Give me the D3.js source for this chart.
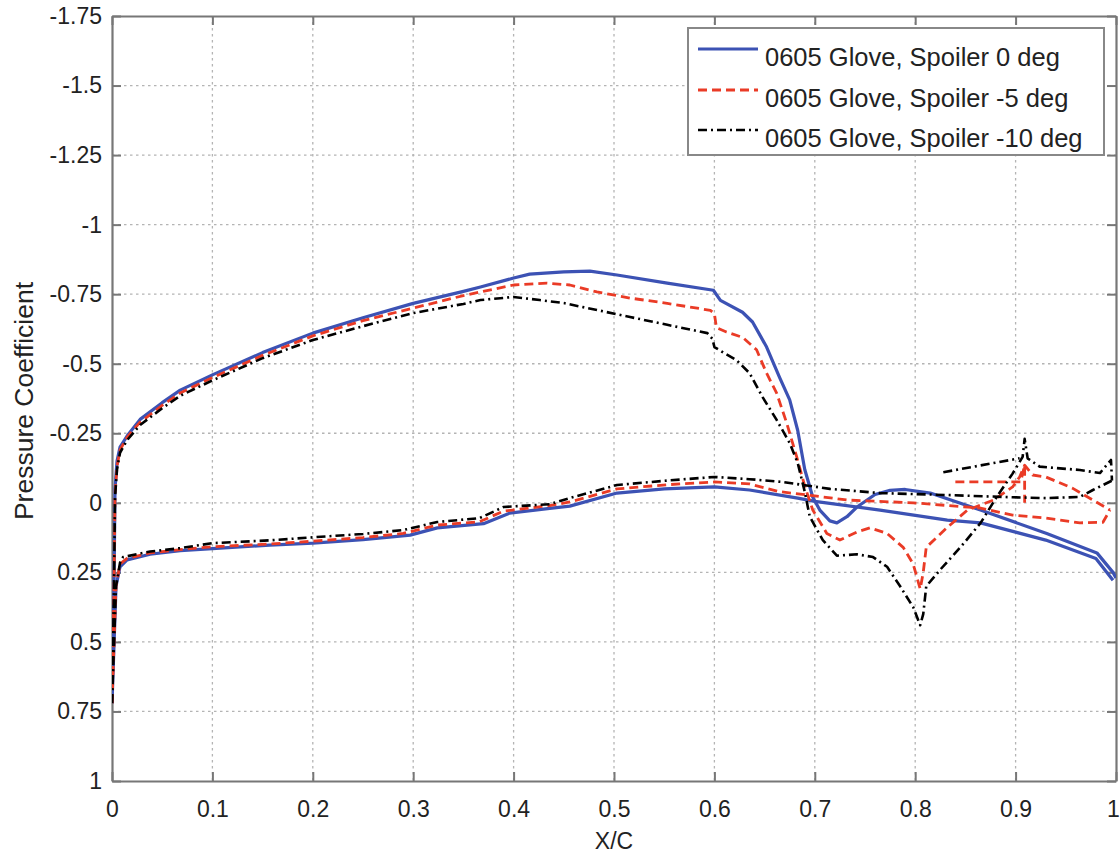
<!DOCTYPE html>
<html>
<head>
<meta charset="utf-8">
<script src="https://cdn.jsdelivr.net/npm/d3@7"></script>
<style>
  html, body { margin: 0; padding: 0; background: #fff; }
  svg { display: block; font-family: "Liberation Sans", Arial, sans-serif; }
</style>
</head>
<body>
<svg id="chart" width="1120" height="856"></svg>
<script>
// ---------------- DATA ----------------
const xTicks = [0, 0.1, 0.2, 0.3, 0.4, 0.5, 0.6, 0.7, 0.8, 0.9, 1];
const xTickLabels = ["0", "0.1", "0.2", "0.3", "0.4", "0.5", "0.6", "0.7", "0.8", "0.9", "1"];
const yTicks = [-1.75, -1.5, -1.25, -1, -0.75, -0.5, -0.25, 0, 0.25, 0.5, 0.75, 1];
const yTickLabels = ["-1.75", "-1.5", "-1.25", "-1", "-0.75", "-0.5", "-0.25", "0", "0.25", "0.5", "0.75", "1"];
const seriesNames = ["0605 Glove, Spoiler 0 deg", "0605 Glove, Spoiler -5 deg", "0605 Glove, Spoiler -10 deg"];

// Spoiler 0 deg
const s0UpperX  = [0.0, 0.002, 0.003, 0.005, 0.008, 0.015, 0.028, 0.05, 0.068, 0.1, 0.15, 0.2, 0.25, 0.3, 0.35, 0.367, 0.4, 0.416, 0.45, 0.476, 0.503, 0.553, 0.599, 0.606, 0.628, 0.638, 0.652, 0.665, 0.675, 0.683, 0.69, 0.698, 0.705, 0.715, 0.722, 0.732, 0.742, 0.76, 0.775, 0.79, 0.815, 0.865, 0.931, 0.981, 0.997, 1.0];
const s0UpperCp = [0.72, 0.3, -0.05, -0.15, -0.2, -0.24, -0.3, -0.36, -0.405, -0.46, -0.54, -0.61, -0.665, -0.717, -0.76, -0.776, -0.808, -0.822, -0.83, -0.833, -0.819, -0.79, -0.764, -0.728, -0.685, -0.65, -0.56, -0.45, -0.37, -0.26, -0.12, -0.02, 0.026, 0.065, 0.072, 0.05, 0.015, -0.03, -0.045, -0.048, -0.035, 0.026, 0.11, 0.18, 0.25, 0.27];
const s0LowerX  = [0.0, 0.004, 0.008, 0.015, 0.038, 0.068, 0.1, 0.157, 0.2, 0.25, 0.297, 0.324, 0.37, 0.396, 0.436, 0.456, 0.503, 0.55, 0.6, 0.635, 0.683, 0.7, 0.765, 0.832, 0.865, 0.93, 0.98, 0.997];
const s0LowerCp = [0.72, 0.3, 0.23, 0.205, 0.185, 0.172, 0.165, 0.152, 0.145, 0.132, 0.116, 0.09, 0.075, 0.037, 0.02, 0.012, -0.035, -0.05, -0.057, -0.046, -0.017, -0.005, 0.026, 0.062, 0.072, 0.134, 0.2, 0.278];

// Spoiler -5 deg
const s5UpperX  = [0.0, 0.002, 0.003, 0.005, 0.008, 0.015, 0.028, 0.05, 0.068, 0.1, 0.15, 0.2, 0.25, 0.3, 0.35, 0.367, 0.4, 0.433, 0.456, 0.483, 0.516, 0.553, 0.596, 0.6, 0.602, 0.612, 0.628, 0.642, 0.652, 0.662, 0.672, 0.682, 0.69, 0.698, 0.712, 0.725, 0.742, 0.755, 0.772, 0.788, 0.798, 0.805, 0.808, 0.811, 0.832, 0.852, 0.878, 0.897, 0.904, 0.909, 0.917, 0.93, 0.957, 0.977, 0.994];
const s5UpperCp = [0.72, 0.3, -0.03, -0.13, -0.19, -0.235, -0.29, -0.35, -0.395, -0.45, -0.53, -0.6, -0.655, -0.7, -0.745, -0.758, -0.783, -0.79, -0.783, -0.758, -0.736, -0.717, -0.692, -0.68, -0.63, -0.614, -0.595, -0.55, -0.466, -0.394, -0.287, -0.165, -0.06, 0.026, 0.11, 0.134, 0.105, 0.09, 0.11, 0.16, 0.22, 0.31, 0.25, 0.16, 0.088, 0.026, -0.01, -0.057, -0.093, -0.135, -0.1, -0.093, -0.052, -0.01, 0.026];
const s5SpoilerX  = [0.84, 0.905, 0.909, 0.909];
const s5SpoilerCp = [-0.075, -0.075, -0.135, 0.0];
const s5LowerX  = [0.0, 0.004, 0.008, 0.015, 0.038, 0.068, 0.1, 0.157, 0.2, 0.25, 0.29, 0.324, 0.366, 0.39, 0.436, 0.456, 0.503, 0.553, 0.6, 0.635, 0.665, 0.7, 0.732, 0.798, 0.865, 0.897, 0.93, 0.964, 0.987, 0.994];
const s5LowerCp = [0.72, 0.3, 0.22, 0.2, 0.18, 0.168, 0.158, 0.148, 0.138, 0.125, 0.11, 0.08, 0.068, 0.03, 0.01, -0.003, -0.05, -0.065, -0.075, -0.068, -0.04, -0.025, -0.01, 0.0, 0.019, 0.044, 0.055, 0.072, 0.07, 0.026];

// Spoiler -10 deg
const s10UpperX  = [0.0, 0.002, 0.003, 0.005, 0.008, 0.015, 0.028, 0.05, 0.068, 0.1, 0.15, 0.2, 0.25, 0.3, 0.35, 0.367, 0.4, 0.426, 0.45, 0.483, 0.516, 0.553, 0.593, 0.598, 0.6, 0.609, 0.622, 0.635, 0.648, 0.662, 0.675, 0.683, 0.69, 0.695, 0.708, 0.722, 0.742, 0.758, 0.772, 0.785, 0.798, 0.805, 0.808, 0.811, 0.825, 0.845, 0.865, 0.881, 0.897, 0.907, 0.909, 0.912, 0.924, 0.964, 0.984, 0.995, 0.996];
const s10UpperCp = [0.72, 0.3, -0.02, -0.12, -0.18, -0.225, -0.28, -0.34, -0.385, -0.44, -0.52, -0.585, -0.635, -0.682, -0.715, -0.729, -0.74, -0.729, -0.718, -0.693, -0.668, -0.64, -0.61, -0.59, -0.56, -0.54, -0.513, -0.466, -0.38, -0.298, -0.215, -0.143, -0.04, 0.05, 0.134, 0.19, 0.185, 0.195, 0.23, 0.3, 0.375, 0.44, 0.4, 0.3, 0.24, 0.16, 0.073, -0.02, -0.105, -0.165, -0.23, -0.16, -0.13, -0.118, -0.107, -0.154, -0.08];
const s10SpoilerX  = [0.828, 0.904];
const s10SpoilerCp = [-0.11, -0.16];
const s10LowerX  = [0.0, 0.004, 0.008, 0.011, 0.038, 0.068, 0.1, 0.157, 0.2, 0.25, 0.29, 0.324, 0.366, 0.39, 0.436, 0.456, 0.503, 0.553, 0.6, 0.635, 0.668, 0.715, 0.765, 0.832, 0.897, 0.93, 0.964, 0.977, 0.996];
const s10LowerCp = [0.72, 0.3, 0.215, 0.195, 0.175, 0.163, 0.145, 0.135, 0.124, 0.112, 0.098, 0.069, 0.055, 0.015, 0.005, -0.017, -0.064, -0.08, -0.093, -0.085, -0.075, -0.05, -0.035, -0.028, -0.02, -0.017, -0.021, -0.046, -0.08];

// ---------------- CHART ----------------
const svg = d3.select("#chart");
const margin = { left: 112, right: 4, top: 16, bottom: 75 };
const W = 1120, H = 856;
const x = d3.scaleLinear().domain([0, 1]).range([margin.left, W - margin.right]);
const y = d3.scaleLinear().domain([-1.75, 1]).range([margin.top, H - margin.bottom]);

const axisColor = "#777";
const gridColor = "#b4b4b4";

// grid
const grid = svg.append("g");
grid.selectAll("line.gx").data(xTicks.slice(1, -1)).join("line")
  .attr("x1", d => x(d)).attr("x2", d => x(d))
  .attr("y1", y(-1.75)).attr("y2", y(1))
  .attr("stroke", gridColor).attr("stroke-width", 1.3).attr("stroke-dasharray", "2.5,3.5");
grid.selectAll("line.gy").data(yTicks.slice(1, -1)).join("line")
  .attr("y1", d => y(d)).attr("y2", d => y(d))
  .attr("x1", x(0)).attr("x2", x(1))
  .attr("stroke", gridColor).attr("stroke-width", 1.3).attr("stroke-dasharray", "2.5,3.5");

// axes (MATLAB-like inward ticks on all sides)
const tickLen = 9;
const fmtX = (d, i) => xTickLabels[i];
const fmtY = (d, i) => yTickLabels[i];

const gBottom = svg.append("g").attr("transform", `translate(0,${y(1)})`)
  .call(d3.axisBottom(x).tickValues(xTicks).tickFormat(fmtX).tickSizeInner(-tickLen).tickSizeOuter(0).tickPadding(20));
const gTop = svg.append("g").attr("transform", `translate(0,${y(-1.75)})`)
  .call(d3.axisTop(x).tickValues(xTicks).tickFormat("").tickSizeInner(-tickLen).tickSizeOuter(0));
const gLeft = svg.append("g").attr("transform", `translate(${x(0)},0)`)
  .call(d3.axisLeft(y).tickValues(yTicks).tickFormat(fmtY).tickSizeInner(-tickLen).tickSizeOuter(0).tickPadding(10));
const gRight = svg.append("g").attr("transform", `translate(${x(1)},0)`)
  .call(d3.axisRight(y).tickValues(yTicks).tickFormat("").tickSizeInner(-tickLen).tickSizeOuter(0));

[gBottom, gTop, gLeft, gRight].forEach(g => {
  g.select(".domain").attr("stroke", axisColor).attr("stroke-width", 2.2);
  g.selectAll(".tick line").attr("stroke", axisColor).attr("stroke-width", 2);
  g.selectAll(".tick text").attr("fill", "#222").attr("font-size", 23)
    .attr("font-family", "Liberation Sans, Arial, sans-serif");
});
// keep the last x label inside the picture
gBottom.selectAll(".tick text").filter((d, i) => i === xTicks.length - 1).attr("dx", -3);

// axis titles
svg.append("text").attr("x", x(0.5)).attr("y", 849).attr("text-anchor", "middle")
  .attr("font-size", 23).attr("fill", "#222").text("X/C");
svg.append("text").attr("transform", `translate(33,401) rotate(-90)`)
  .attr("text-anchor", "middle").attr("font-size", 26.5).attr("fill", "#222").text("Pressure Coefficient");

// clip
svg.append("clipPath").attr("id", "clip").append("rect")
  .attr("x", x(0)).attr("y", y(-1.75)).attr("width", x(1) - x(0)).attr("height", y(1) - y(-1.75));

const zip = (xs, cs) => xs.map((v, i) => [v, cs[i]]);
const line = d3.line().x(d => x(d[0])).y(d => y(d[1]));

const styles = [
  { color: "#3c52b4", width: 3.2, dash: null },
  { color: "#ea3b26", width: 2.8, dash: "9,5" },
  { color: "#000000", width: 2.6, dash: "9,4,2,4" }
];

const seriesPaths = [
  [zip(s0LowerX, s0LowerCp), zip(s0UpperX, s0UpperCp)],
  [zip(s5LowerX, s5LowerCp), zip(s5UpperX, s5UpperCp), zip(s5SpoilerX, s5SpoilerCp)],
  [zip(s10LowerX, s10LowerCp), zip(s10UpperX, s10UpperCp), zip(s10SpoilerX, s10SpoilerCp)]
];

const plot = svg.append("g").attr("clip-path", "url(#clip)");
seriesPaths.forEach((paths, si) => {
  const st = styles[si];
  plot.append("g").selectAll("path").data(paths).join("path")
    .attr("d", line)
    .attr("fill", "none")
    .attr("stroke", st.color)
    .attr("stroke-width", st.width)
    .attr("stroke-linejoin", "round")
    .attr("stroke-dasharray", st.dash);
});

// legend
const lg = svg.append("g");
lg.append("rect").attr("x", 688).attr("y", 28).attr("width", 416).attr("height", 127)
  .attr("fill", "#fff").attr("stroke", "#888").attr("stroke-width", 2);
const rowY = [49, 90, 130];
seriesNames.forEach((name, i) => {
  const st = styles[i];
  lg.append("line").attr("x1", 698).attr("x2", 758).attr("y1", rowY[i]).attr("y2", rowY[i])
    .attr("stroke", st.color).attr("stroke-width", st.width).attr("stroke-dasharray", st.dash);
  lg.append("text").attr("x", 765).attr("y", rowY[i] + 17).attr("font-size", 25.5)
    .attr("fill", "#222").text(name);
});
</script>
</body>
</html>
